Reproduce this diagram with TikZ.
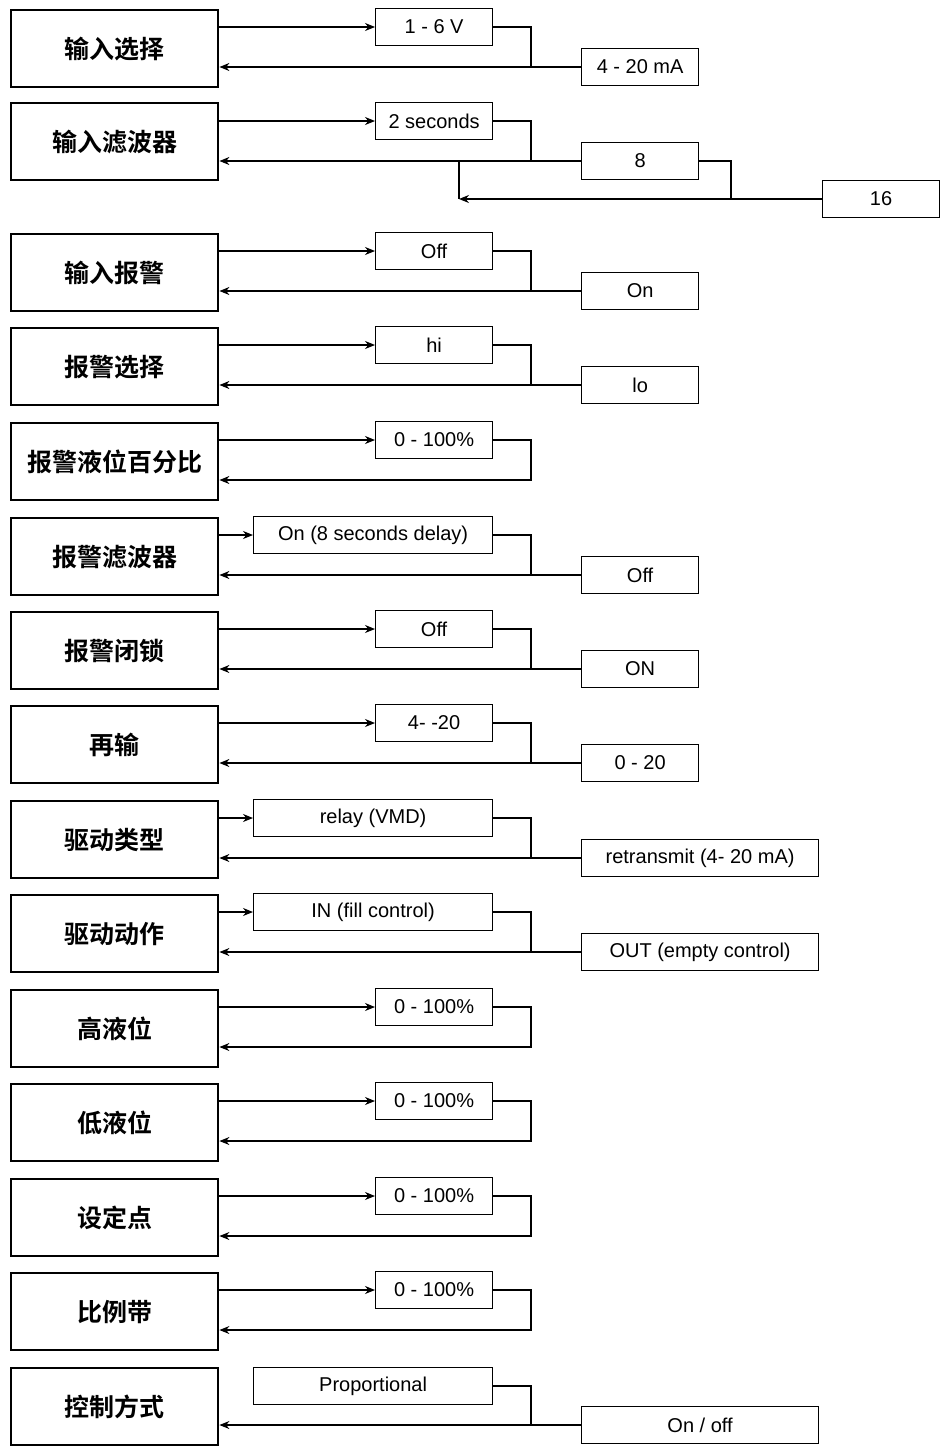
\documentclass[tikz,border=0pt]{standalone}
\usepackage{fontspec}
\setmainfont{Liberation Sans}
\newfontfamily\cjk{Noto Sans CJK SC}[BoldFont=* Bold]
\usetikzlibrary{arrows.meta}
\tikzset{
	menu/.style={draw, line width=1.2pt, anchor=north west, minimum width=103.5pt, minimum height=38.5pt, inner sep=0pt, font=\cjk\bfseries\fontsize{12.5}{14}\selectfont},
	opt/.style={draw, line width=0.6pt, anchor=west, minimum height=18.5pt, inner sep=0pt, font=\fontsize{10}{12}\selectfont},
	link/.style={line width=0.6pt},
	go/.style={link, -{Stealth[length=5pt,width=4pt]}}
}
% id, label, top, first, left x of first, second, width of second
\newcommand{\choice}[7]{
	\node[menu] (#1) at (10,#3) {#2};
	\node[opt, minimum width={(492-#5)*0.5pt}] (#1a) at (#5,#3+18) {#4};
	\draw[go] (#1.east |- #1a) -- (#1a);
	\draw[link] (#1a.east) -- (531,#3+18) -- (531,#3+58);
	\node[opt, minimum width=#7] (#1b) at (581,#3+58) {#6};
	\draw[go] (#1b.west) -- (#1.east |- #1b);
}
% id, label, top, only option
\newcommand{\single}[4]{
	\node[menu] (#1) at (10,#3) {#2};
	\node[opt, minimum width=58.5pt] (#1a) at (375,#3+18) {#4};
	\draw[go] (#1.east |- #1a) -- (#1a);
	\draw[go] (#1a.east) -- (531,#3+18) -- (531,#3+58) -- (#1.east |- 0,#3+58);
}

\begin{document}
\begin{tikzpicture}[x=0.5pt,y=-0.5pt]
	\useasboundingbox (0,0) rectangle (942,1451);
	\choice{input}{输入选择}{9}{1 - 6 V}{375}{4 - 20 mA}{58.5pt}

	% filter has three steps
	\node[menu] (filter) at (10,102) {输入滤波器};
	\node[opt, minimum width=58.5pt] (filtera) at (375,121) {2 seconds};
	\draw[go] (filter.east |- filtera) -- (filtera);
	\draw[link] (filtera.east) -- (531,121) -- (531,161);
	\node[opt, minimum width=58.5pt] (filterb) at (581,161) {8};
	\draw[go] (filterb.west) -- (filter.east |- filterb);
	\draw[link] (filterb.east) -- (731,161) -- (731,199);
	\node[opt, minimum width=58.5pt] (filterc) at (822,199) {16};
	\coordinate (back) at (459,161);
	\draw[go] (filterc.west) -- (back |- filterc);
	\draw[link] (back) -- (back |- filterc);

	\choice{alarm}{输入报警}{233}{Off}{375}{On}{58.5pt}
	\choice{alsel}{报警选择}{327}{hi}{375}{lo}{58.5pt}
	\single{alpct}{报警液位百分比}{422}{0 - 100\%}
	\choice{alfil}{报警滤波器}{517}{On (8 seconds delay)}{253}{Off}{58.5pt}
	\choice{allock}{报警闭锁}{611}{Off}{375}{ON}{58.5pt}
	\choice{retx}{再输}{705}{4- -20}{375}{0 - 20}{58.5pt}
	\choice{drtype}{驱动类型}{800}{relay (VMD)}{253}{retransmit (4- 20 mA)}{118.5pt}
	\choice{dract}{驱动动作}{894}{IN (fill control)}{253}{OUT (empty control)}{118.5pt}
	\single{high}{高液位}{989}{0 - 100\%}
	\single{low}{低液位}{1083}{0 - 100\%}
	\single{setp}{设定点}{1178}{0 - 100\%}
	\single{band}{比例带}{1272}{0 - 100\%}

	% no arrow into the first mode
	\node[menu] (mode) at (10,1367) {控制方式};
	\node[opt, minimum width=119.5pt] (modea) at (253,1386) {Proportional};
	\draw[link] (modea.east) -- (531,1386) -- (531,1425);
	\node[opt, minimum width=118.5pt] (modeb) at (581,1425) {On / off};
	\draw[go] (modeb.west) -- (mode.east |- modeb);
\end{tikzpicture}
\end{document}
